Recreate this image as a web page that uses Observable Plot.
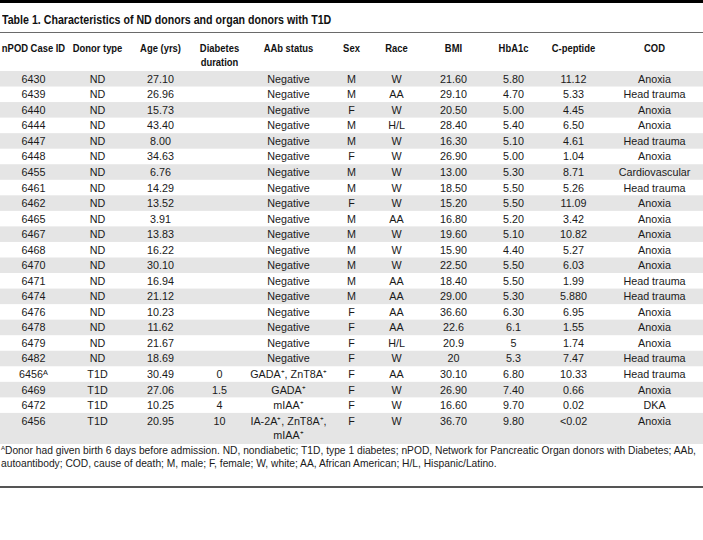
<!DOCTYPE html>
<html>
<head>
<meta charset="utf-8">
<script src="https://cdn.jsdelivr.net/npm/d3@7"></script>
<script src="https://cdn.jsdelivr.net/npm/@observablehq/plot@0.6"></script>
<style>
  html, body { margin: 0; padding: 0; background: #fff; }
  #wrap { position: relative; width: 703px; height: 540px; background: #fff; overflow: hidden; color: #1a1a1a; }
  .topbar { position: absolute; top: 0; left: 0; width: 703px; height: 3px; background: #000; }
  .title { position: absolute; top: 12px; left: 2px; line-height: 16px; font-family: "Liberation Sans", Arial, sans-serif; font-weight: bold; font-size: 12.5px; white-space: nowrap; color: #111; transform: scaleX(0.85); transform-origin: 0 50%; }
  .rule1 { position: absolute; top: 32px; left: 0; width: 703px; height: 1px; background: #6a6a6a; }
  #chart { position: absolute; top: 33px; left: 0; }
  .foot { position: absolute; top: 444px; left: 1px; font-family: "Liberation Sans", Arial, sans-serif; font-size: 10.25px; line-height: 13px; white-space: nowrap; color: #1a1a1a; }
  .foot sup { font-size: 6px; vertical-align: 4px; line-height: 0; }
  .rule2 { position: absolute; top: 486px; left: 0; width: 703px; height: 1.5px; background: #555; }
</style>
</head>
<body>
<div id="wrap">
  <div class="topbar"></div>
  <div class="title" id="title"></div>
  <div class="rule1"></div>
  <div id="chart"></div>
  <div class="foot" id="foot"></div>
  <div class="rule2"></div>
</div>
<script>
// ---- Data ----
const titleText = "Table 1. Characteristics of ND donors and organ donors with T1D";
const headers = ["nPOD Case ID", "Donor type", "Age (yrs)", "Diabetes\nduration", "AAb status", "Sex", "Race", "BMI", "HbA1c", "C-peptide", "COD"];
const caseIds = ["6430","6439","6440","6444","6447","6448","6455","6461","6462","6465","6467","6468","6470","6471","6474","6476","6478","6479","6482","6456\u1D2C","6469","6472","6456"];
const donorTypes = ["ND","ND","ND","ND","ND","ND","ND","ND","ND","ND","ND","ND","ND","ND","ND","ND","ND","ND","ND","T1D","T1D","T1D","T1D"];
const ages = ["27.10","26.96","15.73","43.40","8.00","34.63","6.76","14.29","13.52","3.91","13.83","16.22","30.10","16.94","21.12","10.23","11.62","21.67","18.69","30.49","27.06","10.25","20.95"];
const durations = ["","","","","","","","","","","","","","","","","","","","0","1.5","4","10"];
const aabStatus = ["Negative","Negative","Negative","Negative","Negative","Negative","Negative","Negative","Negative","Negative","Negative","Negative","Negative","Negative","Negative","Negative","Negative","Negative","Negative","GADA\u207A, ZnT8A\u207A","GADA\u207A","mIAA\u207A","IA-2A\u207A, ZnT8A\u207A,\nmIAA\u207A"];
const sexes = ["M","M","F","M","M","F","M","M","F","M","M","M","M","M","M","F","F","F","F","F","F","F","F"];
const races = ["W","AA","W","H/L","W","W","W","W","W","AA","W","W","W","AA","AA","AA","AA","H/L","W","AA","W","W","W"];
const bmis = ["21.60","29.10","20.50","28.40","16.30","26.90","13.00","18.50","15.20","16.80","19.60","15.90","22.50","18.40","29.00","36.60","22.6","20.9","20","30.10","26.90","16.60","36.70"];
const hba1cs = ["5.80","4.70","5.00","5.40","5.10","5.00","5.30","5.50","5.50","5.20","5.10","4.40","5.50","5.50","5.30","6.30","6.1","5","5.3","6.80","7.40","9.70","9.80"];
const cpeptides = ["11.12","5.33","4.45","6.50","4.61","1.04","8.71","5.26","11.09","3.42","10.82","5.27","6.03","1.99","5.880","6.95","1.55","1.74","7.47","10.33","0.66","0.02","<0.02"];
const cods = ["Anoxia","Head trauma","Anoxia","Anoxia","Head trauma","Anoxia","Cardiovascular","Head trauma","Anoxia","Anoxia","Anoxia","Anoxia","Anoxia","Head trauma","Head trauma","Anoxia","Anoxia","Anoxia","Head trauma","Head trauma","Anoxia","DKA","Anoxia"];
const footLines = [
  "<sup>A</sup>Donor had given birth 6 days before admission. ND, nondiabetic; T1D, type 1 diabetes; nPOD, Network for Pancreatic Organ donors with Diabetes; AAb,",
  "autoantibody; COD, cause of death; M, male; F, female; W, white; AA, African American; H/L, Hispanic/Latino."
];

// ---- Layout ----
const columns = [caseIds, donorTypes, ages, durations, aabStatus, sexes, races, bmis, hba1cs, cpeptides, cods];
const colCenter = [33, 97, 160, 219, 288, 351, 396, 453, 513, 573, 654];
const rowPx = 15.55;          // one text row, in pixels
const headerUnits = 38 / rowPx;
const lineStep = 0.9;         // line spacing inside a cell, in row units
const headerLine1 = -1.479;
const headerSqueeze = 0.82;   // condensed bold header face

const bands = [];
const cells = [];
let cursor = 0;
caseIds.forEach((_, r) => {
  const rowTexts = columns.map(col => col[r]);
  const span = d3.max(rowTexts, t => t.split("\n").length);
  if (r % 2 === 0) bands.push({y1: cursor, y2: cursor + span});
  rowTexts.forEach((t, c) => {
    t.split("\n").forEach((line, k) => {
      cells.push({x: colCenter[c], y: cursor + 0.5 + k * lineStep, text: line});
    });
  });
  cursor += span;
});
const totalUnits = cursor;
const headerCells = [];
headers.forEach((h, c) => h.split("\n").forEach((line, k) => headerCells.push({x: colCenter[c], y: headerLine1 + k * lineStep, text: line})));

const svgHeight = Math.round((headerUnits + totalUnits) * rowPx);

const chart = Plot.plot({
  width: 703,
  height: svgHeight,
  margin: 0,
  style: {fontFamily: "'Liberation Sans', Arial, sans-serif", fontSize: "10.75px", color: "#1a1a1a", background: "transparent"},
  x: {domain: [0, 703], axis: null},
  y: {domain: [-headerUnits, totalUnits], range: [0, svgHeight], axis: null},
  marks: [
    Plot.rect(bands, {y1: "y1", y2: "y2", fill: "#e5e5e5"}),
    Plot.text(headerCells, {x: "x", y: "y", text: "text", fontWeight: "bold", fontFamily: "'Liberation Sans', Arial, sans-serif", fontSize: 11.5, fill: "#111"}),
    Plot.text(cells, {x: "x", y: "y", text: "text", fontSize: 10.75, fill: "#1a1a1a"})
  ]
});
// squeeze the bold header face horizontally around each text's own anchor
d3.select(chart).selectAll("g[font-weight='bold'] text").each(function() {
  const t = this.getAttribute("transform");
  if (t) this.setAttribute("transform", `${t} scale(${headerSqueeze},1)`);
});
document.getElementById("chart").appendChild(chart);
document.getElementById("title").textContent = titleText;
document.getElementById("foot").innerHTML = footLines.join("<br>");
</script>
</body>
</html>
